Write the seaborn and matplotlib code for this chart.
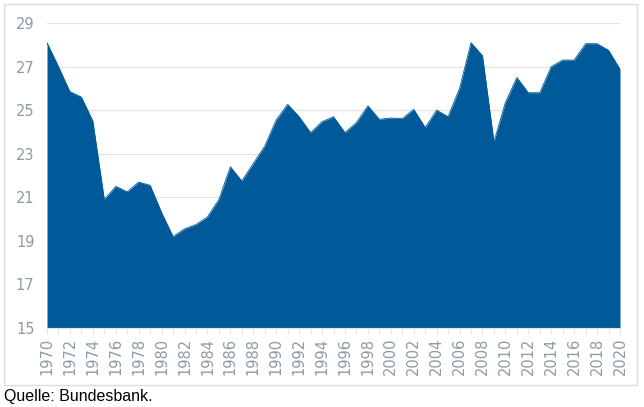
import numpy as np
import pandas as pd
import seaborn as sns
from matplotlib import pyplot
from matplotlib.patches import Rectangle

years = list(range(1970, 2021))
values = [
    28.1, 27.0, 25.85, 25.6, 24.5, 20.9, 21.5, 21.25, 21.7, 21.55,
    20.3, 19.2, 19.55, 19.75, 20.1, 20.9, 22.4, 21.75, 22.55, 23.35,
    24.55, 25.27, 24.7, 23.97, 24.47, 24.7, 23.97, 24.43, 25.2, 24.58,
    24.64, 24.61, 25.04, 24.2, 25.0, 24.7, 26.0, 28.1, 27.5, 23.55,
    25.35, 26.5, 25.8, 25.8, 27.0, 27.3, 27.3, 28.05, 28.05, 27.75,
    26.88,
]
yticks = [15, 17, 19, 21, 23, 25, 27, 29]
xticks = list(range(1970, 2021, 2))
source = 'Quelle: Bundesbank.'

blue = '#005A9A'
grey_text = '#8C9BA6'
grey_line = '#E3E3E3'

df = pd.DataFrame({'year': years, 'value': values})

sns.set_theme(style='white')
pyplot.rcParams['font.family'] = ['DejaVu Sans']

fig = pyplot.figure(figsize=(6.44, 4.07), dpi=100, facecolor='white')
ax = fig.add_axes([47 / 644, 1 - 328 / 407, 573 / 644, 305 / 407])

ax.fill_between(df['year'], 15, df['value'], color=blue, linewidth=0, zorder=2)
sns.lineplot(data=df, x='year', y='value', color=blue, linewidth=0.6, ax=ax, zorder=3)

ax.set_xlim(1970, 2020)
ax.set_ylim(15, 29)
ax.set_yticks(yticks)
ax.set_yticklabels([str(t) for t in yticks], fontsize=10.5, color=grey_text)
ax.set_xticks(xticks)
ax.set_xticklabels([str(t) for t in xticks], rotation=90, fontsize=10.5, color=grey_text)
ax.set_xticks(years, minor=True)
ax.tick_params(axis='x', which='both', bottom=True, length=4, width=0.8,
               color=grey_line, pad=3, direction='out')
ax.tick_params(axis='y', length=0, pad=9)
ax.set_xlabel('')
ax.set_ylabel('')

for t in yticks[1:]:
    ax.axhline(t, color=grey_line, linewidth=0.9, zorder=1)

for side in ['top', 'right', 'left']:
    ax.spines[side].set_visible(False)
ax.spines['bottom'].set_color(grey_line)
ax.spines['bottom'].set_linewidth(0.8)

fig.patches.append(Rectangle((4 / 644, 1 - 385 / 407), 633 / 644, 381 / 407,
                             transform=fig.transFigure, fill=False,
                             edgecolor='#DCDCDC', linewidth=1.0))

fig.text(4 / 644, 1 - 397 / 407, source, fontsize=11.5, color='black',
         family=['Liberation Sans', 'DejaVu Sans'], va='center', ha='left')

fig.savefig('out.png', dpi=100, facecolor='white')
